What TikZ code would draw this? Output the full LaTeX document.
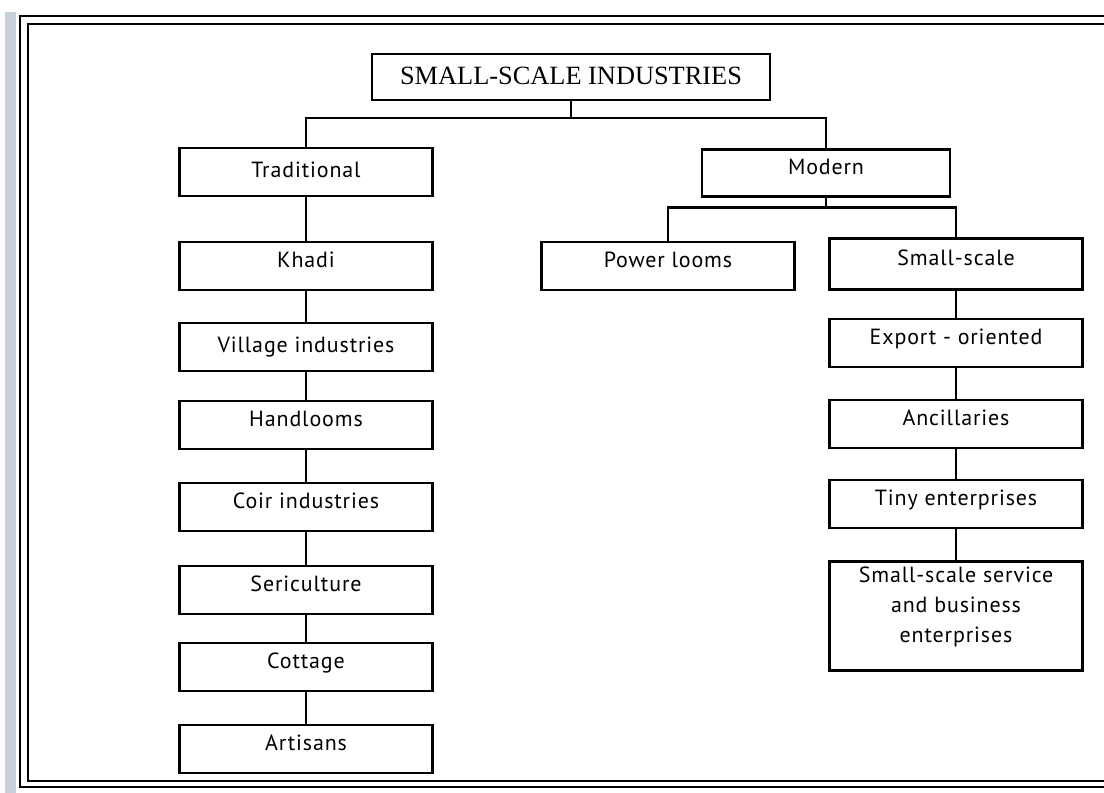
\documentclass[tikz,border=0pt]{standalone}
\usepackage{fontspec}
\setmainfont{PT Sans}[LetterSpace=4]
\newfontfamily\headfont{Liberation Serif}
\definecolor{pageedge}{RGB}{202,208,217}
\usetikzlibrary{positioning}
\tikzset{
  box/.style={rectangle, draw=black, line width=1.3pt, align=center, minimum width=5.06cm, minimum height=0.96cm, font=\fontsize{12.5pt}{15pt}\selectfont},
  lift/.style={text height=8.5pt, text depth=7pt},
  level/.style={text height=8.5pt, text depth=2.5pt},
  link/.style={line width=1.3pt},
  frame/.style={line width=1.3pt}
}

\begin{document}
\begin{tikzpicture}[x=0.02cm, y=-0.02cm]
      \useasboundingbox (0,0) rectangle (1104,793);
      % scanned page edge and double frame
      \fill[pageedge] (5,12) rectangle (16,793);
      \draw[frame] (1104,16) -- (20,16) -- (20,787) -- (1104,787);
      \draw[frame] (1104,24) -- (28,24) -- (28,781) -- (1104,781);

      \node[box, minimum width=7.96cm, minimum height=0.92cm, text height=11pt, text depth=3pt, font=\headfont\fontsize{15pt}{18pt}\selectfont] (t0) at (571,77) {SMALL-SCALE INDUSTRIES};

      % left branch
      \node[box, level] (l1) at (306,172) {Traditional};
      \node[box, lift, yshift=-1.88cm] (l2) at (l1.center) {Khadi};
      \node[box, level, yshift=-1.62cm] (l3) at (l2.center) {Village industries};
      \node[box, lift, yshift=-1.56cm] (l4) at (l3.center) {Handlooms};
      \node[box, lift, yshift=-1.64cm] (l5) at (l4.center) {Coir industries};
      \node[box, lift, yshift=-1.66cm] (l6) at (l5.center) {Sericulture};
      \node[box, lift, yshift=-1.54cm] (l7) at (l6.center) {Cottage};
      \node[box, lift, yshift=-1.64cm] (l8) at (l7.center) {Artisans};

      % right branch
      \node[box, lift, minimum width=4.96cm, minimum height=0.94cm] (r1) at (826,173) {Modern};
      \node[box, lift] (r2) at (668,266) {Power looms};
      \node[box, lift, minimum height=1.02cm] (r3) at (956,264) {Small-scale};
      \node[box, lift, yshift=-1.58cm] (r4) at (r3.center) {Export - oriented};
      \node[box, lift, yshift=-1.62cm] (r5) at (r4.center) {Ancillaries};
      \node[box, lift, yshift=-1.60cm] (r6) at (r5.center) {Tiny enterprises};
      \node[box, minimum height=2.12cm, text depth=12.5pt, font=\fontsize{12.5pt}{17pt}\selectfont, yshift=-2.24cm] (r7) at (r6.center) {Small-scale service\\and business\\enterprises};

      \draw[link] (t0.south) -- ++(0,17) -| (l1.north);
      \draw[link] (t0.south) -- ++(0,17) -| (r1.north);
      \draw[link] (r1.south) -- ++(0,10) -| (r2.north);
      \draw[link] (r1.south) -- ++(0,10) -| (r3.north);
      \foreach \a/\b in {l1/l2, l2/l3, l3/l4, l4/l5, l5/l6, l6/l7, l7/l8, r3/r4, r4/r5, r5/r6, r6/r7}
        \draw[link] (\a.south) -- (\b.north);
    \end{tikzpicture}
\end{document}
